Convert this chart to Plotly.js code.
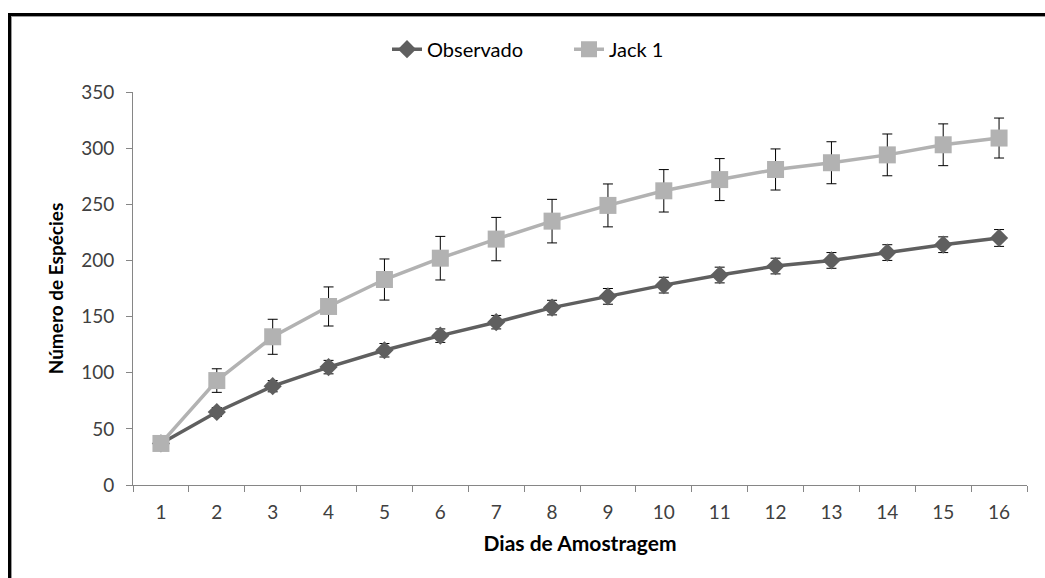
<!DOCTYPE html>
<html>
<head>
<meta charset="utf-8">
<script src="https://cdn.plot.ly/plotly-3.0.1.min.js"></script>
<style>
html,body{margin:0;padding:0;background:#fff;}
#wrap{position:relative;width:1045px;height:578px;overflow:hidden;}
#chart{position:absolute;left:0;top:0;width:1045px;height:578px;}
#frame{position:absolute;left:8px;top:13px;width:1100px;height:700px;border-left:3px solid #000;border-top:3px solid #000;pointer-events:none;}
#frame2{position:absolute;left:11px;top:16px;width:1100px;height:700px;border-left:1px solid #9a9a9a;border-top:1px solid #9a9a9a;pointer-events:none;}
</style>
</head>
<body>
<div id="wrap">
<div id="chart"></div>
<div id="frame"></div>
<div id="frame2"></div>
</div>
<script>
var days = ["1","2","3","4","5","6","7","8","9","10","11","12","13","14","15","16"];
var observado = [37, 65, 88, 105, 120, 133, 145, 158, 168, 178, 187, 195, 200, 207, 214, 220];
var observadoErr = [0, 4, 5, 6, 6, 6, 6, 6.5, 7, 7, 7, 7, 7, 7, 7, 7.5];
var jack1 = [37, 93, 132, 159, 183, 202, 219, 235, 249, 262, 272, 281, 287, 294, 303, 309];
var jack1Err = [1, 10.5, 15.6, 17.4, 18.3, 19.4, 19.3, 19.4, 19.1, 18.9, 18.7, 18.3, 18.7, 18.6, 18.6, 17.8];

var fontFam = "Lato, 'Open Sans', sans-serif";

var traces = [
  {
    x: days, y: observado, name: "Observado", type: "scatter", mode: "lines+markers",
    line: {color: "#5f5f5f", width: 3.5},
    marker: {symbol: "diamond", size: 14, color: "#5f5f5f"},
    error_y: {type: "data", array: observadoErr, visible: true, color: "#000", thickness: 1, width: 5}
  },
  {
    x: days, y: jack1, name: "Jack 1", type: "scatter", mode: "lines+markers",
    line: {color: "#b2b2b2", width: 3.5},
    marker: {symbol: "square", size: 17, color: "#b2b2b2"},
    error_y: {type: "data", array: jack1Err, visible: true, color: "#000", thickness: 1, width: 5}
  }
];

var layout = {
  width: 1045, height: 578,
  margin: {l: 133, r: 18, t: 92, b: 93},
  paper_bgcolor: "#fff", plot_bgcolor: "#fff",
  font: {family: fontFam, size: 19, color: "#404040"},
  showlegend: true,
  legend: {
    orientation: "h", xref: "container", yref: "container",
    x: 0.5445, xanchor: "center", y: 0.915, yanchor: "middle",
    font: {family: fontFam, size: 20, color: "#000"},
    entrywidth: 137, entrywidthmode: "pixels",
    tracegroupgap: 0
  },
  xaxis: {
    type: "category", range: [-0.5, 15.5],
    tickson: "boundaries",
    ticks: "outside", ticklen: 6, tickcolor: "#868686", tickwidth: 1,
    ticklabelstandoff: 10,
    showline: true, linecolor: "#868686", linewidth: 1,
    showgrid: false, zeroline: false,
    tickfont: {family: fontFam, size: 19, color: "#404040"},
    title: {text: "<b>Dias de Amostragem</b>", font: {family: fontFam, size: 21, color: "#000"}, standoff: 14}
  },
  yaxis: {
    range: [0, 350], tickvals: [0,50,100,150,200,250,300,350],
    ticks: "outside", ticklen: 6, tickcolor: "#868686", tickwidth: 1,
    ticklabelstandoff: 8,
    showline: true, linecolor: "#868686", linewidth: 1,
    showgrid: false, zeroline: false,
    tickfont: {family: fontFam, size: 19, color: "#404040"},
    title: {text: "<b>Número de Espécies</b>", font: {family: fontFam, size: 19, color: "#000"}, standoff: 12}
  }
};

Plotly.newPlot("chart", traces, layout, {displayModeBar: false, staticPlot: true});
</script>
</body>
</html>
